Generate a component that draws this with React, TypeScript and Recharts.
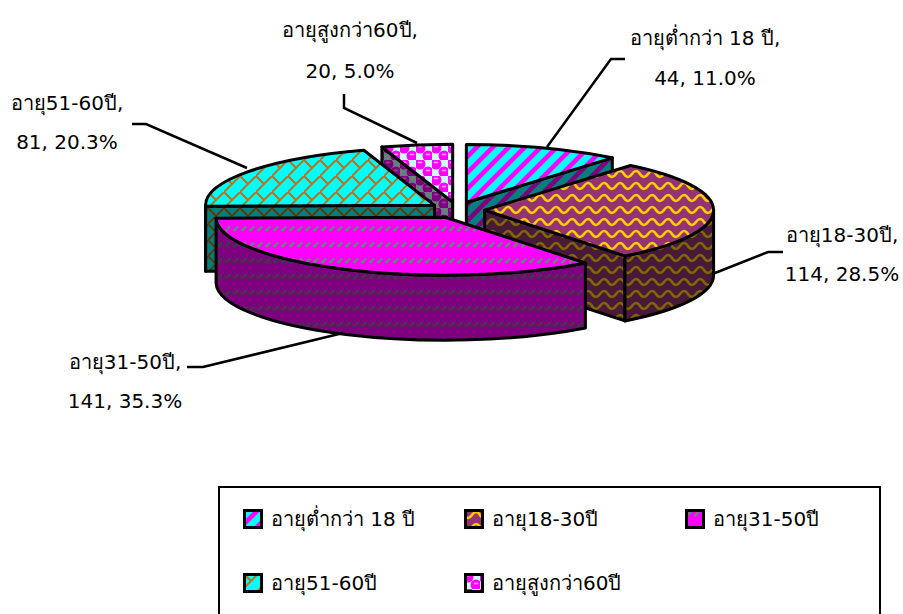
import { Legend, Pie, PieChart } from "recharts";

const ageNames = ["อายุต่ำกว่า 18 ปี", "อายุ18-30ปี", "อายุ31-50ปี", "อายุ51-60ปี", "อายุสูงกว่า60ปี"];
const ageCounts = [44, 114, 141, 81, 20];

// back to front, the slices overlap each other in this order
const drawOrder = [4, 0, 3, 1, 2];

const chartData = ageNames.map((name, i) => ({ name, value: ageCounts[i] }));
const total = ageCounts.reduce((a, b) => a + b, 0);

const FONT = "'DejaVu Sans', Tahoma, sans-serif";
const FONT_SIZE = 20;
const TILT = 0.253;
const DEPTH = 65;
const EXPLODE = 27.6;
const EXPLODE_TILT = 0.29;

// text anchors and leader lines, in pixels
const labelLayout = [
  { x: 705, y1: 45, y2: 85, line: "M625,59 L611,59 L547,147" },
  { x: 842, y1: 242, y2: 281, line: "M783,252 L768,252 L715,273" },
  { x: 125, y1: 369, y2: 408, line: "M187,367 L203,367 L343,333" },
  { x: 67, y1: 110, y2: 149, line: "M132,124 L146,124 L247,168" },
  { x: 350, y1: 37, y2: 78, line: "M344,94 L344,108 L417,143" },
];

const legendLayout = [
  { left: 243, top: 509 },
  { left: 464, top: 509 },
  { left: 685, top: 509 },
  { left: 243, top: 573 },
  { left: 464, top: 573 },
];

const rad = (d: number) => (d * Math.PI) / 180;

function makeSlice(k: number) {
  return function Slice(props: any) {
    const { cx, cy, outerRadius: rx, startAngle, endAngle, midAngle, name } = props;
    if (name !== ageNames[k]) return <g />;

    const ry = rx * TILT;
    const from = 90 - startAngle;
    const to = 90 - endAngle;
    const mid = 90 - midAngle;
    const ox = cx + EXPLODE * Math.sin(rad(mid));
    const oy = cy - EXPLODE * EXPLODE_TILT * Math.cos(rad(mid));
    const pt = (a: number): [number, number] => [
      ox + rx * Math.sin(rad(a)),
      oy - ry * Math.cos(rad(a)),
    ];
    const fill = `url(#age-${k})`;
    const walls: string[] = [];

    // flat cut faces, only the ones turned toward the viewer
    const face = (a: number) => {
      const [x, y] = pt(a);
      walls.push(`M${ox},${oy} L${x},${y} L${x},${y + DEPTH} L${ox},${oy + DEPTH} Z`);
    };
    if (Math.sin(rad(from)) < 0) face(from);
    if (Math.sin(rad(to)) > 0) face(to);

    // curved outer wall
    const a0 = Math.max(from, 90);
    const a1 = Math.min(to, 270);
    if (a1 > a0) {
      const [x0, y0] = pt(a0);
      const [x1, y1] = pt(a1);
      walls.push(
        `M${x0},${y0} A${rx},${ry} 0 0 1 ${x1},${y1} L${x1},${y1 + DEPTH} A${rx},${ry} 0 0 0 ${x0},${y0 + DEPTH} Z`
      );
    }

    const [sx, sy] = pt(from);
    const [ex, ey] = pt(to);
    const top = `M${ox},${oy} L${sx},${sy} A${rx},${ry} 0 ${to - from > 180 ? 1 : 0} 1 ${ex},${ey} Z`;

    return (
      <g>
        {walls.map((d, i) => (
          <g key={i}>
            <path d={d} fill={fill} />
            <path d={d} fill="rgba(0,0,0,0.5)" stroke="#000" strokeWidth={3} strokeLinejoin="round" />
          </g>
        ))}
        <path d={top} fill={fill} stroke="#000" strokeWidth={3} strokeLinejoin="round" />
      </g>
    );
  };
}

function renderLabel(props: any) {
  const i = ageNames.indexOf(props.name);
  const spot = labelLayout[i];
  const pct = ((ageCounts[i] / total) * 100).toFixed(1);
  return (
    <g key={props.name}>
      <path d={spot.line} fill="none" stroke="#000" strokeWidth={2.5} />
      <text x={spot.x} y={spot.y1} textAnchor="middle" fontFamily={FONT} fontSize={FONT_SIZE} fill="#000">
        {props.name},
      </text>
      <text x={spot.x} y={spot.y2} textAnchor="middle" fontFamily={FONT} fontSize={FONT_SIZE} fill="#000">
        {`${ageCounts[i]}, ${pct}%`}
      </text>
    </g>
  );
}

function LegendBox() {
  return (
    <div style={{ position: "relative", width: 663, height: 140, boxSizing: "border-box", border: "2.5px solid #000" }}>
      {ageNames.map((name, i) => (
        <div key={name}>
          <svg
            width={20}
            height={20}
            style={{ position: "absolute", left: legendLayout[i].left - 220, top: legendLayout[i].top - 488 }}
          >
            <rect x={1.5} y={1.5} width={17} height={17} fill={`url(#age-${i})`} stroke="#000" strokeWidth={3} />
          </svg>
          <span
            style={{
              position: "absolute",
              left: legendLayout[i].left + 28 - 220,
              top: legendLayout[i].top - 488 - 3,
              fontFamily: FONT,
              fontSize: FONT_SIZE,
              lineHeight: "26px",
              whiteSpace: "nowrap",
              color: "#000",
            }}
          >
            {name}
          </span>
        </div>
      ))}
    </div>
  );
}

export default function App() {
  return (
    <div style={{ position: "absolute", left: 0, top: 0, width: 903, height: 614, overflow: "hidden", background: "#fff" }}>
      <PieChart width={903} height={614} margin={{ top: 0, right: 0, bottom: 0, left: 0 }}>
        <defs>
          <pattern id="age-0" width={16} height={16} patternUnits="userSpaceOnUse">
            <rect width={16} height={16} fill="#00FFFF" />
            <path d="M-4,4 L4,-4 M-2,18 L18,-2 M12,20 L20,12" stroke="#FF00FF" strokeWidth={4.5} />
          </pattern>
          <pattern id="age-1" width={16} height={12} patternUnits="userSpaceOnUse">
            <rect width={16} height={12} fill="#933373" />
            <path d="M-8,6 Q-4,0 0,6 T8,6 T16,6 T24,6" fill="none" stroke="#FFCC00" strokeWidth={2.6} />
          </pattern>
          <pattern id="age-2" width={8} height={16} patternUnits="userSpaceOnUse">
            <rect width={8} height={16} fill="#FF00FF" />
            <path d="M1.5,7 L6,2.5" stroke="#4D9966" strokeWidth={2.2} />
          </pattern>
          <pattern id="age-3" width={16} height={16} patternUnits="userSpaceOnUse">
            <rect width={16} height={16} fill="#00FFFF" />
            <path d="M-1,17 L17,-1 M0,0 L8,8 M15,1 L17,-1 M-1,1 L1,-1" fill="none" stroke="#CC6600" strokeWidth={1.8} />
          </pattern>
          <pattern id="age-4" width={16} height={16} patternUnits="userSpaceOnUse">
            <rect width={16} height={16} fill="#CCFFFF" />
            <circle cx={4} cy={4} r={5.5} fill="#FF00FF" />
            <circle cx={12} cy={12} r={5.5} fill="#FF00FF" />
            <ellipse cx={4} cy={2.5} rx={2.5} ry={1} fill="#FF99FF" />
            <ellipse cx={12} cy={10.5} rx={2.5} ry={1} fill="#FF99FF" />
          </pattern>
        </defs>
        {drawOrder.map((k, n) => (
          <Pie
            key={k}
            data={chartData}
            dataKey="value"
            nameKey="name"
            cx={457}
            cy={210}
            outerRadius={229}
            startAngle={90}
            endAngle={-270}
            stroke="none"
            shape={makeSlice(k)}
            label={n === drawOrder.length - 1 ? renderLabel : false}
            labelLine={false}
            legendType="none"
            isAnimationActive={false}
          />
        ))}
        <Legend content={() => <LegendBox />} wrapperStyle={{ left: 218, top: 486, width: 663, height: 140 }} />
      </PieChart>
    </div>
  );
}
